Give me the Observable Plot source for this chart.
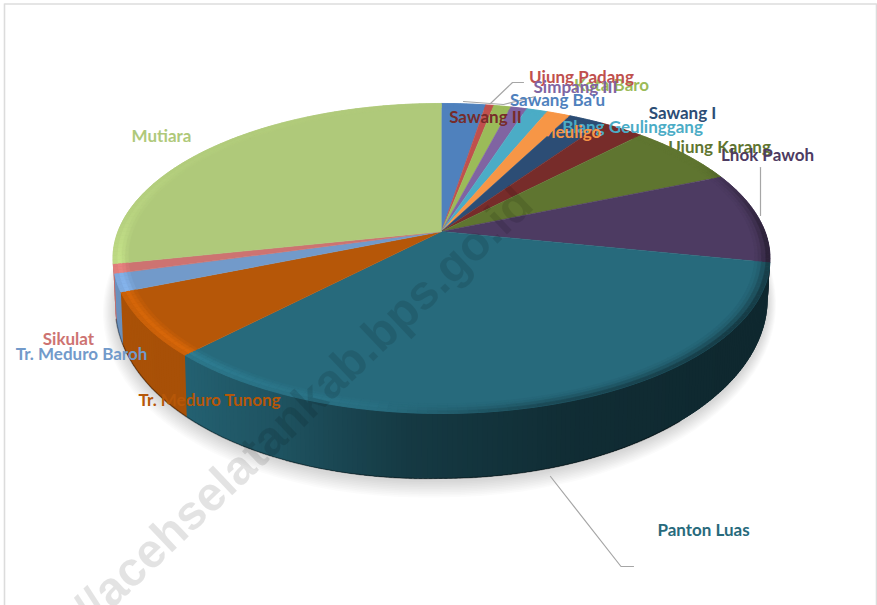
<!DOCTYPE html>
<html>
<head>
<meta charset="utf-8">
<script src="https://cdn.jsdelivr.net/npm/d3@7"></script>
<script src="https://cdn.jsdelivr.net/npm/@observablehq/plot@0.6"></script>
<style>html,body{margin:0;padding:0;background:#fff;overflow:hidden}svg{display:block}</style>
</head>
<body>
<div id="chart"></div>
<script>
// Data (share of the pie, percent), clockwise from 12 o'clock
const names = ["Sawang Ba'u","Ujung Padang","Kota Baro","Simpang III","Blang Geulinggang","Meuligo","Sawang I","Sawang II","Ujung Karang","Lhok Pawoh","Panton Luas","Tr. Meduro Tunong","Tr. Meduro Baroh","Sikulat","Mutiara"];
const shares = [2.56,0.47,1.0,0.94,1.22,1.39,2.06,2.53,6.5,9.53,34.0,6.64,1.86,0.97,28.33];
const sliceColors = ["#4f81bd","#c0504d","#9bbb59","#8064a2","#4bacc6","#f79646","#2c4d75","#772c2a","#5f7530","#4d3b62","#276a7c","#b65708","#729aca","#cd7371","#afc97a"];

// Label placement (separate from the values)
const labelOrder = ["Mutiara","Sawang II","Kota Baro","Ujung Padang","Simpang III","Sawang Ba'u","Sawang I","Blang Geulinggang","Meuligo","Ujung Karang","Lhok Pawoh","Panton Luas","Sikulat","Tr. Meduro Baroh","Tr. Meduro Tunong"];
const labelX = [161,485,611,581,575,557,682,632,570,719,767,703,68,81,209];
const labelY = [136,117,85,77,87,100,113,127,132,147,155,530,339,354,400];
const leaders = [
  [[523,82],[512,82],[490,103]],
  [[463,101],[503,104],[535,96]],
  [[760,167],[760,215]],
  [[550,476],[620.5,566],[633,566]]
];
const watermark = "https://acehselatankab.bps.go.id";

// Perspective disc geometry
const W = 877, H = 605, cx = 441, cy = 231, R = 323.5, S = 150.3, k = 0.174;
const rad = d => d * Math.PI / 180;
function topPt(theta, r = 1) {
  const u = r * Math.sin(rad(theta)), v = r * Math.cos(rad(theta)), w = 1 + k * v;
  return [cx + R * u / w, cy - S * v / w];
}
function bottomPt(theta) {
  const [x, y] = topPt(theta);
  return [cx + (x - cx) * 0.993, 298 + (y - 258) * 1.161 + (x < cx ? (cx - x) * 0.024 : 0)];
}
const total = d3.sum(shares);
let acc = 0;
const slices = names.map((name, i) => {
  const a0 = acc / total * 360; acc += shares[i];
  return {name, color: sliceColors[i], a0, a1: acc / total * 360};
});
const arcAngles = (a0, a1, step) => {
  const n = Math.max(1, Math.ceil((a1 - a0) / step));
  return d3.range(n + 1).map(j => a0 + (a1 - a0) * j / n);
};
const black = "#000";

// Shadow rings
const shadow = [];
d3.range(1, 11).forEach(i => {
  d3.range(0, 361, 3).forEach(t => {
    const [x, y] = bottomPt(t);
    shadow.push({id: i, x: cx + (x - cx) * (1 + i * 0.0032) - i * 0.2, y: 300 + (y - 298) * (1 + i * 0.0075) + i * 0.35});
  });
});

let pid = 0;
// Side wall: narrow overlapping quads shaded by angle, painted in order
const sideDark = d3.scaleLinear().domain([90,130,160,185,205,225,270]).range([.62,.62,.58,.46,.22,.08,.05]).clamp(true);
const wall = [];
slices.filter(s => s.a1 > 88 && s.a0 < 258.1).forEach(s => {
  const a0 = Math.max(s.a0, 88), a1 = Math.min(s.a1, 258.1);
  d3.pairs(arcAngles(a0, a1, 0.75)).forEach(([p, q]) => {
    const m = (p + q) / 2, q2 = Math.min(q + 1.2, 258.1);
    const color = d3.interpolateRgb(s.color, black)(sideDark(m));
    pid++;
    [topPt(p), topPt(q2), bottomPt(q2), bottomPt(p)].forEach(c => wall.push({id: pid, x: c[0], y: c[1], color}));
  });
});
// Top faces
const polys = [];
function quad(p, color) { pid++; p.forEach(q => polys.push({id: pid, x: q[0], y: q[1], color})); }
slices.forEach(s => {
  quad([[cx, cy], ...arcAngles(s.a0, s.a1, 1).map(t => topPt(t))], s.color);
});
// Bevel rim on the top face: lightening on the lower left, darkening on the right
const rimTone = d3.scaleLinear().domain([0,60,90,125,165,190,225,250,275,300,360]).range([0,0,-1.4,-1.6,-1.0,.12,.46,.42,.15,.06,0]).clamp(true);
const rimBands = [[.955,.965,.3,.08],[.965,.975,.7,.2],[.975,.988,1,.5],[.988,1,.7,1]];
slices.forEach(s => {
  d3.pairs(arcAngles(s.a0, s.a1, 1.5)).forEach(([p, q]) => {
    const b = rimTone((p + q) / 2);
    rimBands.forEach(([r0, r1, light, dark]) => {
      quad([topPt(p, r0), topPt(q, r0), topPt(q, r1), topPt(p, r1)],
        d3.rgb(s.color).brighter(b * (b > 0 ? light : dark)).formatHex());
    });
  });
});
const bottomEdge = d3.range(140, 258, 2).map(t => { const [x, y] = bottomPt(t); return {x, y}; });

const labels = labelOrder.map((name, i) => ({name, x: labelX[i], y: labelY[i], color: sliceColors[names.indexOf(name)]}));
const leaderPts = leaders.flatMap((l, i) => l.map(p => ({id: i, x: p[0], y: p[1]})));
const borderLines = [
  {x1: 4, x2: 4, y1: 3, y2: H},
  {x1: 4, x2: 876, y1: 3.5, y2: 3.5},
  {x1: 876, x2: 876, y1: 3, y2: H}
];

const chart = Plot.plot({
  width: W, height: H, margin: 0,
  x: {domain: [0, W], range: [0, W], axis: null},
  y: {domain: [0, H], range: [0, H], axis: null},
  color: {type: "identity"},
  style: {background: "#fff", fontFamily: "Lato, sans-serif"},
  marks: [
    Plot.link(borderLines, {x1: "x1", x2: "x2", y1: "y1", y2: "y2", stroke: "#dcdcdc", strokeWidth: 1.6}),
    Plot.line(shadow, {x: "x", y: "y", z: "id", fill: black, fillOpacity: 0.014, stroke: "none"}),
    Plot.line(wall, {x: "x", y: "y", z: "id", fill: "color", stroke: "none"}),
    Plot.line(bottomEdge, {x: "x", y: "y", stroke: black, strokeOpacity: 0.35, strokeWidth: 1.4}),
    Plot.line(polys, {x: "x", y: "y", z: "id", fill: "color", stroke: "color", strokeWidth: 0.6}),
    Plot.line(leaderPts, {x: "x", y: "y", z: "id", stroke: "#a6a6a6", strokeWidth: 1.2, strokeLinejoin: "miter"}),
    Plot.text(labels, {x: "x", y: "y", text: "name", fill: "color", fontSize: 17, fontWeight: 700, fontFamily: "Lato, sans-serif"}),
    Plot.text([watermark], {x: [535], y: [207], text: d => d, rotate: -43.5, textAnchor: "end", lineAnchor: "bottom", fontSize: 48, fontWeight: 700, fontFamily: "Liberation Sans, sans-serif", fill: black, fillOpacity: 0.11})
  ]
});
document.getElementById("chart").append(chart);
</script>
</body>
</html>
